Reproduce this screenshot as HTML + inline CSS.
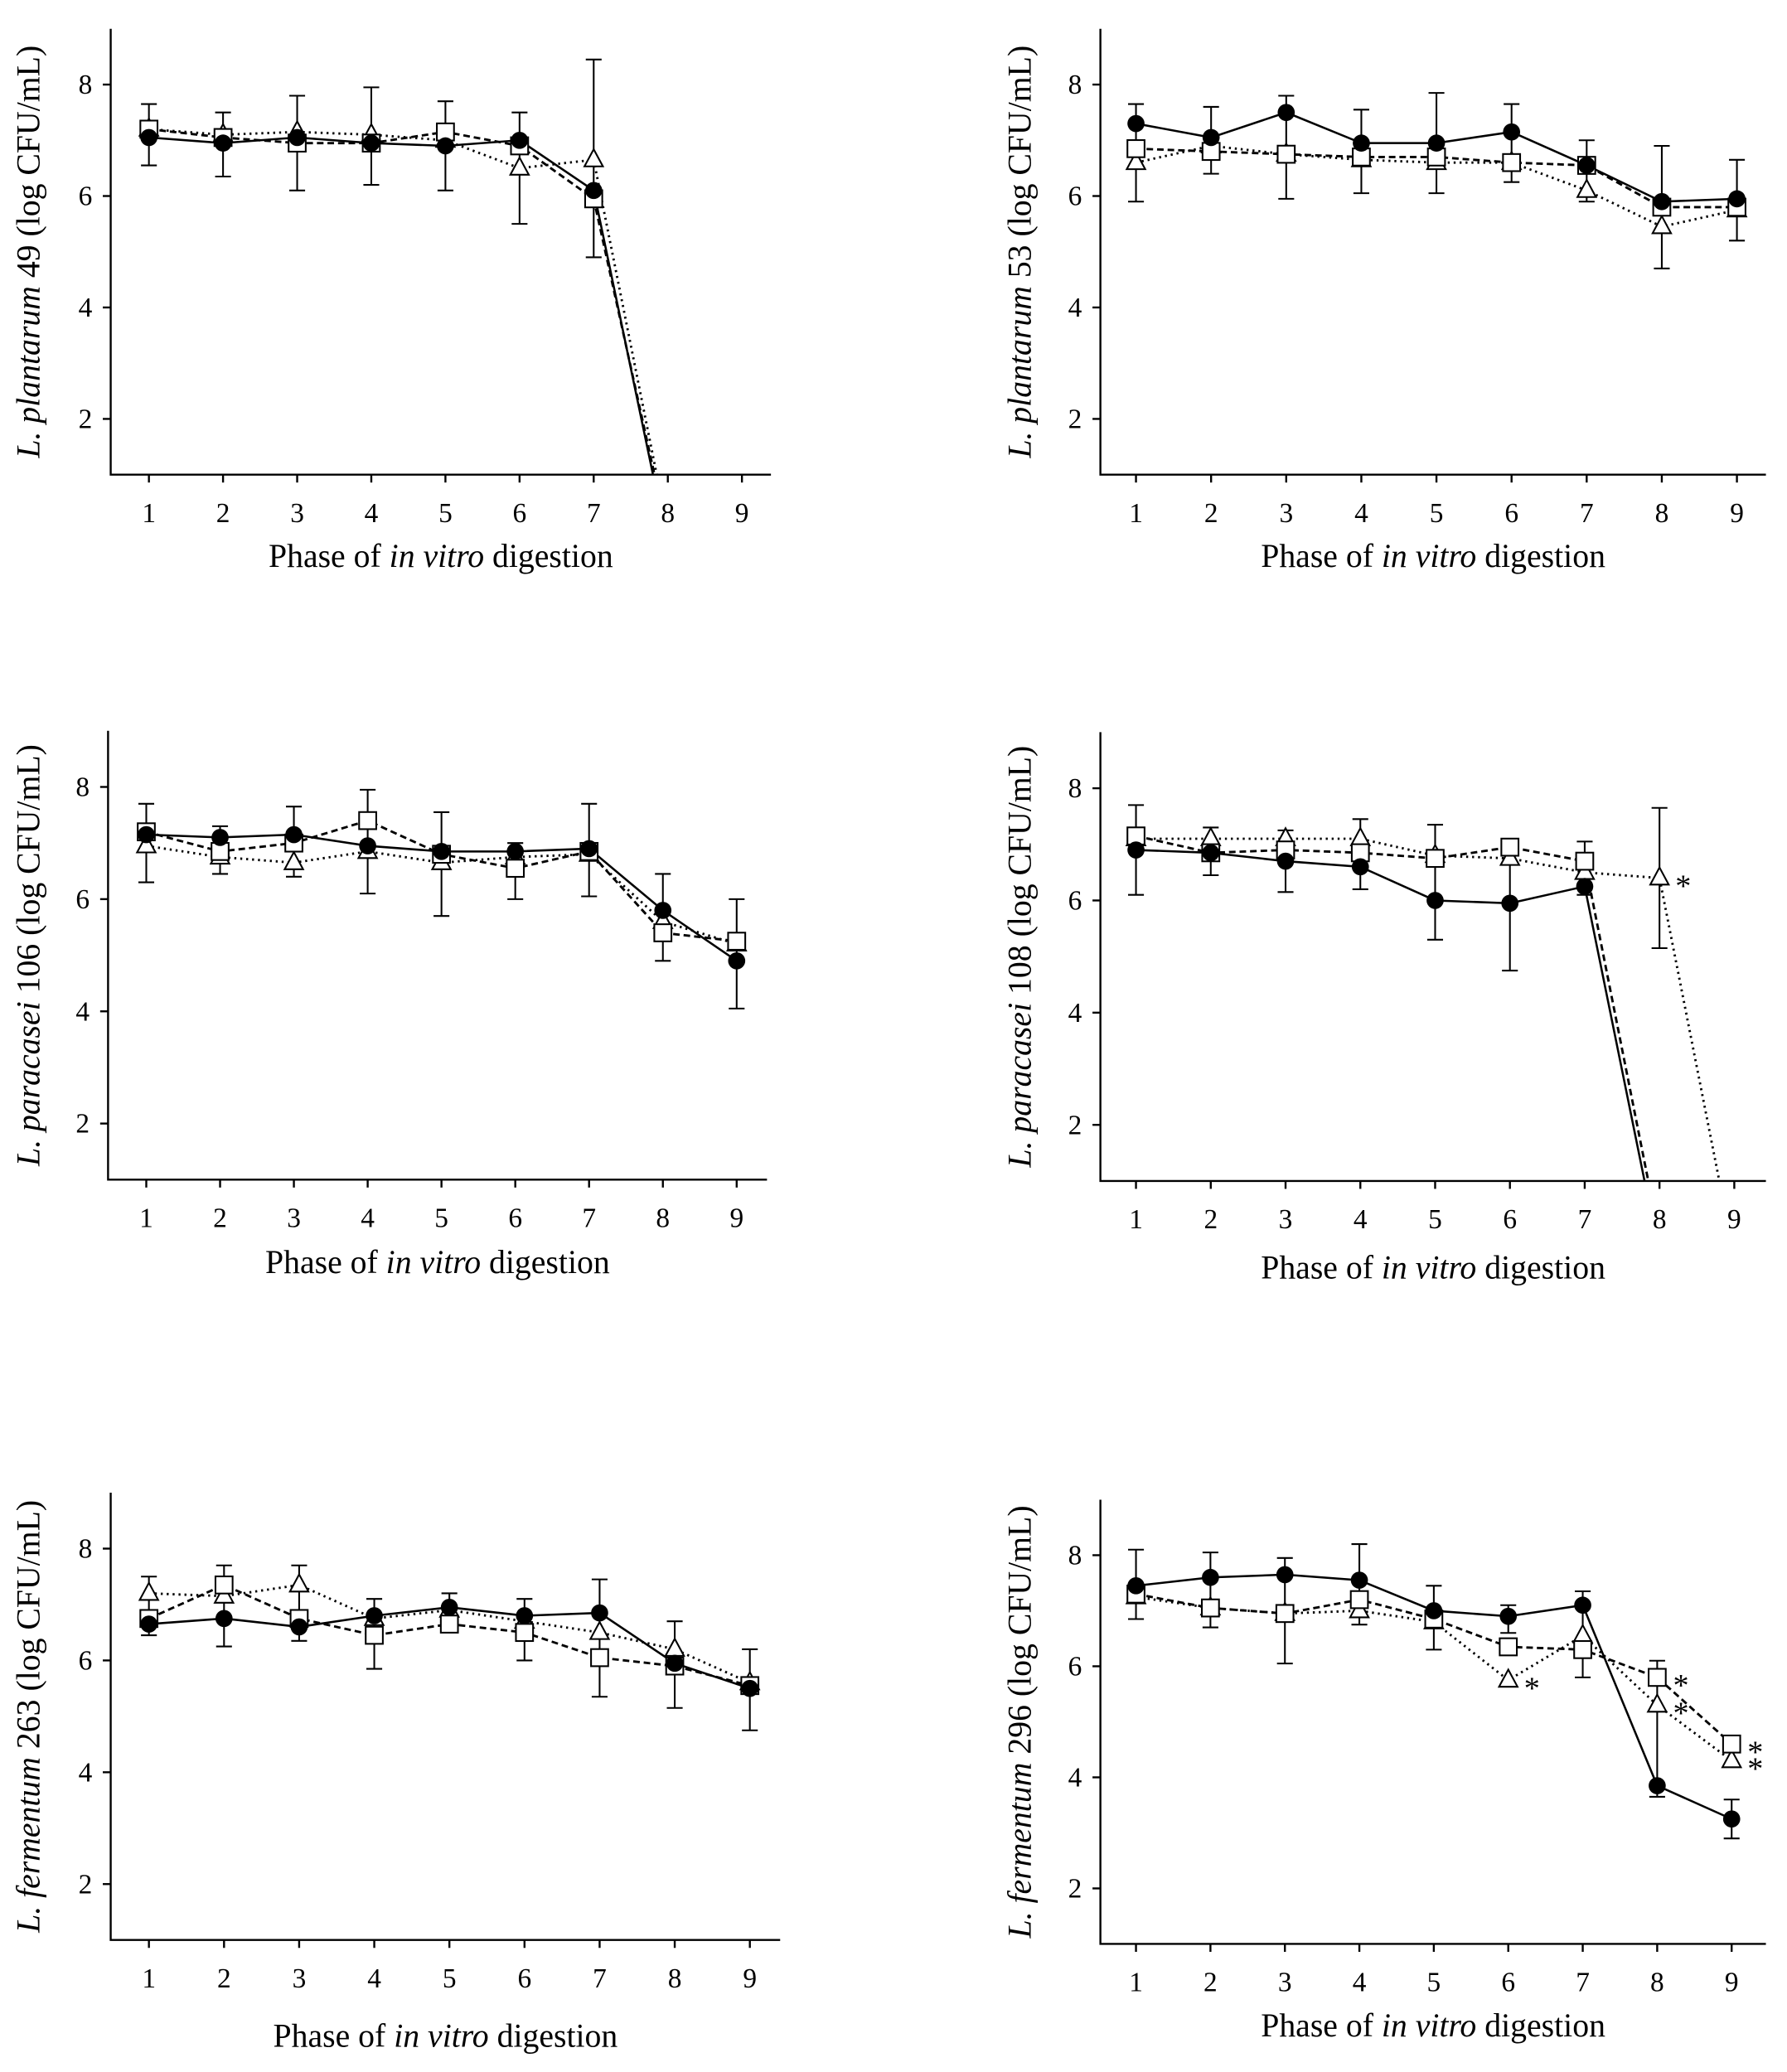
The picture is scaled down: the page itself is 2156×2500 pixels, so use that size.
<!DOCTYPE html>
<html><head><meta charset="utf-8"><style>
html,body{margin:0;padding:0;background:#fff}
svg{display:block}
text{font-family:"Liberation Serif",serif;fill:#000}
</style></head><body>
<svg id="s" width="2156" height="2500" viewBox="0 0 1356 1572" xmlns="http://www.w3.org/2000/svg"></svg>
<script>
const P=[
{ax:84,ay:360,y8:64,x1:113,x9:563,xe:585,ylab:"49",sp:"L. plantarum",lx:30,xlabY:430,
 c:[7.05,6.95,7.05,6.95,6.9,7.0,6.1],cd:7.8,
 s:[7.2,7.05,6.95,6.95,7.15,6.9,5.95],sd:7.82,
 t:[7.2,7.1,7.15,7.1,7.0,6.5,6.65],td:7.85,
 e:[[7.65,6.55],[7.5,6.35],[7.8,6.1],[7.95,6.2],[7.7,6.1],[7.5,5.5],[8.45,4.9]],ast:[]},
{ax:835,ay:360,y8:64,x1:862,x9:1318,xe:1340,ylab:"53",sp:"L. plantarum",lx:782,xlabY:430,
 c:[7.3,7.05,7.5,6.95,6.95,7.15,6.55,5.9,5.95],
 s:[6.85,6.8,6.75,6.7,6.7,6.6,6.55,5.8,5.8],
 t:[6.6,6.9,6.75,6.65,6.6,6.6,6.1,5.45,5.75],
 e:[[7.65,5.9],[7.6,6.4],[7.8,5.95],[7.55,6.05],[7.85,6.05],[7.65,6.25],[7.0,5.9],[6.9,4.7],[6.65,5.2]],ast:[]},
{ax:82,ay:895,y8:597,x1:111,x9:559,xe:582,ylab:"106",sp:"L. paracasei",lx:30,xlabY:966,
 c:[7.15,7.1,7.15,6.95,6.85,6.85,6.9,5.8,4.9],
 s:[7.2,6.85,7.0,7.4,6.8,6.55,6.85,5.4,5.25],
 t:[6.95,6.75,6.65,6.85,6.65,6.75,6.8,5.6,5.2],
 e:[[7.7,6.3],[7.3,6.45],[7.65,6.4],[7.95,6.1],[7.55,5.7],[7.0,6.0],[7.7,6.05],[6.45,4.9],[6.0,4.05]],ast:[]},
{ax:835,ay:896,y8:598,x1:862,x9:1316,xe:1340,ylab:"108",sp:"L. paracasei",lx:782,xlabY:970,
 c:[6.9,6.85,6.7,6.6,6.0,5.95,6.25],cd:7.8,
 s:[7.15,6.85,6.9,6.85,6.75,6.95,6.7],sd:7.85,
 t:[7.1,7.1,7.1,7.1,6.8,6.75,6.5,6.4],td:8.8,
 e:[[7.7,6.1],[7.3,6.45],[7.25,6.15],[7.45,6.2],[7.35,5.3],[7.1,4.75],[7.05,6.1],[7.65,5.15]],ast:[[8,6.4]]},
{ax:84,ay:1472,y8:1175,x1:113,x9:569,xe:592,ylab:"263",sp:"L. fermentum",lx:30,xlabY:1553,
 c:[6.65,6.75,6.6,6.8,6.95,6.8,6.85,5.95,5.5],
 s:[6.75,7.35,6.75,6.45,6.65,6.5,6.05,5.9,5.55],
 t:[7.2,7.15,7.35,6.75,6.9,6.7,6.5,6.2,5.6],
 e:[[7.5,6.45],[7.7,6.25],[7.7,6.35],[7.1,5.85],[7.2,6.6],[7.1,6.0],[7.45,5.35],[6.7,5.15],[6.2,4.75]],ast:[]},
{ax:835,ay:1475,y8:1180,x1:862,x9:1314,xe:1340,ylab:"296",sp:"L. fermentum",lx:782,xlabY:1545,
 c:[7.45,7.6,7.65,7.55,7.0,6.9,7.1,3.85,3.25],
 s:[7.3,7.05,6.95,7.2,6.85,6.35,6.3,5.8,4.6],
 t:[7.25,7.05,6.95,7.0,6.8,5.75,6.55,5.3,4.3],
 e:[[8.1,6.85],[8.05,6.7],[7.95,6.05],[8.2,6.75],[7.45,6.3],[7.1,6.6],[7.35,5.8],[6.1,3.65],[3.6,2.9]],ast:[[6,5.75],[8,5.8],[8,5.3],[9,4.6],[9,4.3]]}
];
let h='';
for(const p of P){
 const u=(p.ay-p.y8)/7;
 const Y=v=>p.ay-(v-1)*u;
 const dx=(p.x9-p.x1)/8; const X=i=>p.x1+(i-1)*dx;
 const top=Y(9);
 h+=`<path d="M${p.ax} ${top}V${p.ay}H${p.xe}" fill="none" stroke="#000" stroke-width="1.5"/>`;
 for(const v of [2,4,6,8]){h+=`<line x1="${p.ax-6}" x2="${p.ax}" y1="${Y(v)}" y2="${Y(v)}" stroke="#000" stroke-width="1.5"/><text x="${p.ax-14}" y="${Y(v)+7}" font-size="21" text-anchor="end">${v}</text>`;}
 for(let i=1;i<=9;i++){h+=`<line x1="${X(i)}" x2="${X(i)}" y1="${p.ay}" y2="${p.ay+6}" stroke="#000" stroke-width="1.5"/><text x="${X(i)}" y="${p.ay+36}" font-size="21" text-anchor="middle">${i}</text>`;}
 const cx=(p.ax+p.xe)/2;
 h+=`<text x="${cx}" y="${p.xlabY}" font-size="25" text-anchor="middle">Phase of <tspan font-style="italic">in vitro</tspan> digestion</text>`;
 const cy=(top+p.ay)/2;
 h+=`<text transform="translate(${p.lx},${cy}) rotate(-90)" font-size="25" text-anchor="middle"><tspan font-style="italic">${p.sp}</tspan> ${p.ylab} (log CFU/mL)</text>`;
 p.e.forEach((e,i)=>{const x=X(i+1);h+=`<path d="M${x} ${Y(e[0])}V${Y(e[1])}M${x-6} ${Y(e[0])}h12M${x-6} ${Y(e[1])}h12" stroke="#000" stroke-width="1.3" fill="none"/>`;});
 const line=(a,d,dash)=>{let pts=a.map((v,i)=>X(i+1)+','+Y(v));if(d)pts.push(X(d)+','+p.ay);return `<polyline points="${pts.join(' ')}" fill="none" stroke="#000" stroke-width="${dash=='0'?1.6:1.8}" ${dash!='0'?`stroke-dasharray="${dash}"`:''}/>`;};
 h+=line(p.t,p.td,'1.5 3');h+=line(p.s,p.sd,'5 3');h+=line(p.c,p.cd,'0');
 p.t.forEach((v,i)=>{const x=X(i+1),y=Y(v);h+=`<polygon points="${x},${y-8} ${x-7},${y+5} ${x+7},${y+5}" fill="#fff" stroke="#000" stroke-width="1.3"/>`;});
 p.s.forEach((v,i)=>{const x=X(i+1),y=Y(v);h+=`<rect x="${x-6.5}" y="${y-6.5}" width="13" height="13" fill="#fff" stroke="#000" stroke-width="1.3"/>`;});
 p.c.forEach((v,i)=>{h+=`<circle cx="${X(i+1)}" cy="${Y(v)}" r="6.5" fill="#000"/>`;});
 p.ast.forEach(a=>{h+=`<text x="${X(a[0])+12}" y="${Y(a[1])+14}" font-size="24">*</text>`;});
}
document.getElementById('s').innerHTML=h;
</script>
</body></html>
